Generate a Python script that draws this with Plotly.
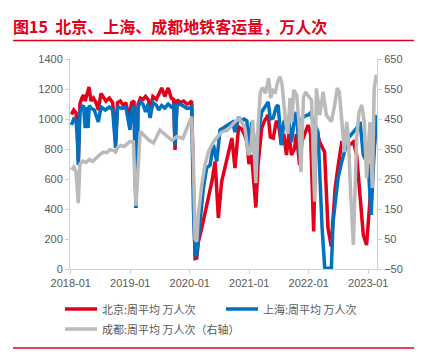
import plotly.graph_objects as go

# ---------------- data ----------------
bj_dates = ["2018-01-05","2018-01-19","2018-02-02","2018-02-09","2018-02-16","2018-02-26","2018-03-10","2018-03-20","2018-03-30","2018-04-08",
"2018-04-23","2018-05-05","2018-05-20","2018-06-05","2018-06-19","2018-07-05","2018-07-20","2018-08-05","2018-08-25","2018-09-15",
"2018-10-03","2018-10-15","2018-11-01","2018-11-20","2018-12-05","2018-12-25","2019-01-10","2019-01-24","2019-02-05","2019-02-18",
"2019-03-05","2019-03-20","2019-04-05","2019-04-23","2019-05-03","2019-05-20","2019-06-10","2019-06-25","2019-07-13","2019-08-01",
"2019-08-22","2019-09-10","2019-09-25","2019-10-03","2019-10-15","2019-11-05","2019-11-25","2019-12-15","2019-12-30","2020-01-13",
"2020-01-24","2020-02-03","2020-02-13","2020-02-23","2020-03-15","2020-04-16","2020-05-16","2020-06-05","2020-06-25","2020-07-15",
"2020-08-06","2020-09-16","2020-10-05","2020-10-27","2020-11-15","2020-12-01","2020-12-17","2020-12-30","2021-01-15","2021-01-27",
"2021-02-10","2021-02-24","2021-03-18","2021-04-05","2021-04-27","2021-05-10","2021-05-28","2021-06-15","2021-06-27","2021-07-17",
"2021-08-01","2021-08-17","2021-09-01","2021-09-17","2021-10-05","2021-10-17","2021-11-06","2021-11-20","2021-12-07","2021-12-28",
"2022-01-12","2022-01-24","2022-01-31","2022-02-14","2022-03-09","2022-04-08","2022-04-29","2022-05-19","2022-06-12","2022-07-01",
"2022-07-22","2022-09-01","2022-10-02","2022-10-22","2022-11-12","2022-12-02","2022-12-22","2023-01-12","2023-02-02","2023-02-20"]
bj_values = [1030,1060,1040,950,720,1100,1140,1160,1120,1150,
1213,1120,1140,1110,1060,1170,1150,1120,1140,1110,
850,1110,1120,1090,1110,1010,1110,1120,407,1100,
1140,1130,1150,1127,1060,1150,1130,1170,1207,1150,
1207,1140,1130,793,1127,1110,1120,1100,1105,1120,
500,70,73,180,273,427,582,716,340,582,
693,873,673,947,933,900,850,700,760,560,
410,700,940,990,1027,880,873,980,980,827,
900,760,900,760,800,900,693,850,893,960,
900,430,250,940,847,780,273,150,540,693,
840,820,847,760,493,227,160,493,760,980]

sh_dates = ["2018-01-05","2018-01-19","2018-02-02","2018-02-09","2018-02-16","2018-02-26","2018-03-10","2018-03-20","2018-03-30","2018-04-06",
"2018-04-17","2018-04-24","2018-05-08","2018-05-25","2018-06-19","2018-07-05","2018-08-01","2018-08-25","2018-09-15","2018-10-03",
"2018-10-15","2018-11-10","2018-12-05","2018-12-30","2019-01-10","2019-01-24","2019-02-05","2019-02-18","2019-03-05","2019-03-20",
"2019-04-05","2019-04-20","2019-05-03","2019-05-20","2019-06-10","2019-06-25","2019-07-13","2019-08-01","2019-08-22","2019-09-10",
"2019-09-25","2019-10-03","2019-10-15","2019-11-05","2019-11-25","2019-12-15","2019-12-30","2020-01-13","2020-01-24","2020-02-03",
"2020-02-13","2020-02-23","2020-03-05","2020-03-25","2020-04-14","2020-05-05","2020-05-26","2020-06-15","2020-07-05","2020-07-25",
"2020-08-26","2020-09-20","2020-10-05","2020-10-27","2020-11-15","2020-12-01","2020-12-17","2020-12-30","2021-01-15","2021-01-27",
"2021-02-10","2021-02-24","2021-03-18","2021-04-05","2021-04-27","2021-05-10","2021-05-28","2021-06-15","2021-06-27","2021-07-17",
"2021-08-01","2021-08-17","2021-09-01","2021-09-17","2021-10-05","2021-10-17","2021-11-06","2021-11-20","2021-12-07","2021-12-28",
"2022-01-10","2022-01-24","2022-02-07","2022-02-27","2022-03-10","2022-03-24","2022-04-09","2022-04-19","2022-05-20","2022-05-30",
"2022-06-30","2022-07-22","2022-09-01","2022-10-02","2022-10-22","2022-11-12","2022-12-02","2023-01-01","2023-01-19","2023-02-02",
"2023-02-20"]
sh_values = [960,1000,990,900,693,1050,1080,1090,940,1080,
940,1090,1070,1060,980,1080,1060,1080,1060,807,
1080,1070,1080,927,1060,1090,413,1080,1113,1100,
1047,1100,1007,1110,1093,1060,1090,1073,1100,1080,
1090,827,1090,1100,1085,1070,1073,1080,400,93,
93,200,316,540,673,693,827,716,927,940,
960,980,913,1013,990,1000,987,780,980,900,
573,900,1047,1080,1113,1000,1007,1080,1093,827,
980,1000,980,847,1000,1047,760,1000,1020,1027,
1040,1000,960,913,627,273,10,5,5,313,
607,713,873,913,940,980,760,693,360,693,
1027]

cd_dates = ["2018-01-05","2018-01-19","2018-02-02","2018-02-16","2018-02-26","2018-03-15","2018-04-05","2018-04-25","2018-05-15","2018-06-05",
"2018-06-25","2018-07-20","2018-08-10","2018-08-30","2018-09-20","2018-10-03","2018-10-15","2018-11-05","2018-11-25","2018-12-15",
"2018-12-30","2019-01-20","2019-02-05","2019-03-03","2019-04-01","2019-04-25","2019-05-24","2019-07-02","2019-08-05","2019-09-13",
"2019-10-15","2019-11-20","2019-12-31","2020-01-13","2020-01-24","2020-02-03","2020-02-13","2020-02-23","2020-03-15","2020-04-04",
"2020-04-25","2020-05-26","2020-07-15","2020-08-20","2020-10-05","2020-11-01","2020-12-05","2020-12-26","2021-01-10","2021-01-22",
"2021-02-10","2021-02-24","2021-03-10","2021-03-24","2021-04-10","2021-04-30","2021-05-12","2021-05-26","2021-06-10","2021-06-25",
"2021-07-08","2021-07-20","2021-07-30","2021-08-12","2021-08-25","2021-09-08","2021-09-20","2021-09-30","2021-10-19","2021-11-02",
"2021-11-14","2021-11-29","2021-12-12","2021-12-28","2022-01-18","2022-02-06","2022-02-17","2022-03-10","2022-03-30","2022-04-19",
"2022-05-20","2022-06-09","2022-06-25","2022-07-08","2022-07-22","2022-08-08","2022-08-22","2022-09-02","2022-09-12","2022-10-02",
"2022-10-22","2022-11-06","2022-11-22","2022-12-08","2022-12-22","2023-01-12","2023-01-26","2023-02-07","2023-02-20"]
cd_values = [280,290,275,170,300,310,305,315,308,320,
330,340,338,348,345,340,355,362,358,368,
375,374,160,408,391,380,370,413,397,380,
391,385,441,458,300,50,40,130,230,297,
341,374,407,413,441,452,420,330,345,447,
236,430,540,555,535,586,520,545,540,575,
591,570,513,440,400,520,440,547,530,440,
273,520,540,530,513,174,552,463,541,463,
441,497,553,540,463,340,440,380,240,30,
387,473,497,440,253,440,220,553,597]

x_ticks = ["2018-01-01","2019-01-01","2020-01-01","2021-01-01","2022-01-01","2023-01-01"]
x_ticklabels = ["2018-01","2019-01","2020-01","2021-01","2022-01","2023-01"]

names = ["北京:周平均 万人次", "上海:周平均 万人次", "成都:周平均 万人次（右轴）"]
title_text = "图15  北京、上海、成都地铁客运量，万人次"
source_text = "资料来源：Wind，东海证券研究所"

# ---------------- style ----------------
RED = "#E2001A"
BLUE = "#0070C0"
GRAY = "#BABABA"
AXIS = "#D0D0D0"
TXT = "#595959"
FONT = "Liberation Sans, Noto Sans CJK SC, sans-serif"
LW = 3.5

fig = go.Figure()
fig.add_trace(go.Scatter(x=bj_dates, y=bj_values, mode="lines", line=dict(color=RED, width=LW), showlegend=False))
fig.add_trace(go.Scatter(x=sh_dates, y=sh_values, mode="lines", line=dict(color=BLUE, width=LW), showlegend=False))
fig.add_trace(go.Scatter(x=cd_dates, y=cd_values, mode="lines", line=dict(color=GRAY, width=LW), yaxis="y2", showlegend=False))

# page body has an 8px margin: the figure is drawn 8px right/down of the window corner
OFF = 8
W, H = 422 - OFF, 356 - OFF
# plot area in page pixels: x 70..377, y 59..269
PL, PR, PT, PB = 70, 377, 59, 269
L, T = PL - OFF, PT - OFF
R, B = W - (PR - OFF), H - (PB - OFF)
pw, ph = PR - PL, PB - PT

def px(xp):  # page pixel x -> paper
    return (xp - PL) / pw

def py(yp):  # page pixel y -> paper
    return (PB - yp) / ph

fig.update_layout(
    width=W, height=H,
    margin=dict(l=L, r=R, t=T, b=B, pad=0),
    paper_bgcolor="white", plot_bgcolor="white",
    font=dict(family=FONT, size=11, color=TXT),
    title=dict(text="<b>" + title_text + "</b>", x=(13 - OFF) / W, xanchor="left", xref="container",
               y=1 - (27 - OFF) / H, yanchor="middle", yref="container",
               font=dict(family="Noto Sans CJK SC, sans-serif", size=16, color=RED)),
    xaxis=dict(type="date", range=["2017-12-27", "2023-02-24"], tickvals=x_ticks, ticktext=x_ticklabels,
               showline=True, linecolor=AXIS, linewidth=1, ticks="outside", ticklen=4, tickcolor=AXIS,
               showgrid=False, zeroline=False, tickfont=dict(size=11, color=TXT)),
    yaxis=dict(range=[0, 1400], dtick=200, showline=True, linecolor=AXIS, linewidth=1,
               ticks="outside", ticklen=4, tickcolor=AXIS, showgrid=False, zeroline=False,
               tickfont=dict(size=11, color=TXT)),
    yaxis2=dict(range=[-50, 650], dtick=100, tick0=-50, overlaying="y", side="right", showline=True,
                linecolor=AXIS, linewidth=1, ticks="outside", ticklen=4, tickcolor=AXIS,
                showgrid=False, zeroline=False, tickfont=dict(size=11, color=TXT)),
    showlegend=False,
)

shapes = []
# title underline and bottom rule
shapes.append(dict(type="line", xref="paper", yref="paper", x0=px(13), x1=px(415), y0=py(40.5), y1=py(40.5),
                   line=dict(color=RED, width=1.5)))
shapes.append(dict(type="line", xref="paper", yref="paper", x0=px(13), x1=px(415), y0=py(348), y1=py(348),
                   line=dict(color=RED, width=1.5)))
# custom legend
leg = [(65, 97, 309, RED, 100), (226, 258, 309, BLUE, 261), (65, 97, 329, GRAY, 100)]
annotations = []
for (x0, x1, yy, col, tx), nm in zip(leg, names):
    shapes.append(dict(type="line", xref="paper", yref="paper", x0=px(x0), x1=px(x1), y0=py(yy), y1=py(yy),
                       line=dict(color=col, width=3.5)))
    annotations.append(dict(text=nm, xref="paper", yref="paper", x=px(tx), y=py(yy), xanchor="left",
                            yanchor="middle", showarrow=False,
                            font=dict(family="Noto Sans CJK SC, sans-serif", size=11, color=TXT)))
annotations.append(dict(text=source_text, xref="paper", yref="paper", x=px(13), y=py(350), xanchor="left",
                        yanchor="top", showarrow=False,
                        font=dict(family="Noto Sans CJK SC, sans-serif", size=15, color=RED)))
fig.update_layout(shapes=shapes, annotations=annotations)

fig.write_html("out.html")
